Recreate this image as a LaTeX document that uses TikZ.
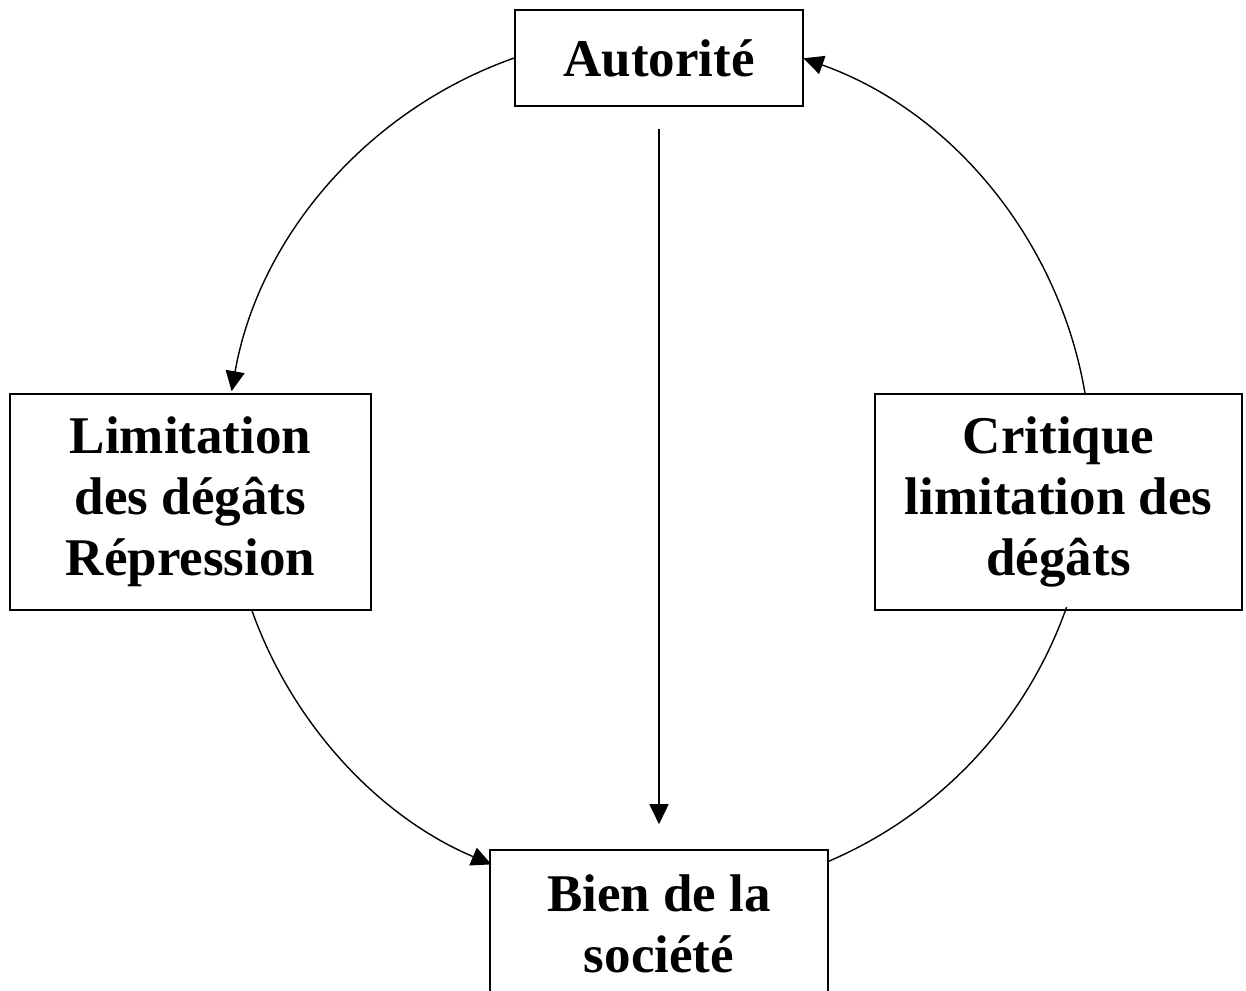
\documentclass[tikz,border=0pt]{standalone}
\usepackage{fontspec}
\setmainfont{Liberation Serif}
\usetikzlibrary{arrows.meta}
\begin{document}
\begin{tikzpicture}[x=1pt,y=1pt,
  box/.style={draw, line width=1.5pt, align=center, inner sep=0pt,
    font=\bfseries\fontsize{53}{61}\selectfont},
  conn/.style={line width=1.4pt},
  tip/.style={-{Triangle[length=20pt,width=19pt]}}]
\useasboundingbox (0,0) rectangle (1246,990);
\node[box, minimum width=288, minimum height=96] (A) at (659,932) {Autorité};
\node[box, minimum width=361, minimum height=216] (L) at (190.5,488) {Limitation\\des dégâts\\Répression};
\node[box, minimum width=367, minimum height=216] (C) at (1058.5,488) {Critique\\limitation des\\dégâts};
\node[box, minimum width=338, minimum height=148] (B) at (659,66) {Bien de la\\société};
\draw[conn, tip, shorten <=22pt, shorten >=25pt] (A.south) -- (B.north);
\draw[conn, tip] (A.west) arc[start angle=109.4, end angle=170, radius=433];
\draw[conn, tip] ([xshift=61.5pt]L.south) arc[start angle=199.6, end angle=247.1, radius=433];
\draw[conn] ([yshift=-12pt]B.north east) arc[start angle=293.2, end angle=340.6, radius=433];
\draw[conn, tip] ([xshift=26.5pt]C.north) arc[start angle=9.7, end angle=70.4, radius=433];
\end{tikzpicture}
\end{document}
